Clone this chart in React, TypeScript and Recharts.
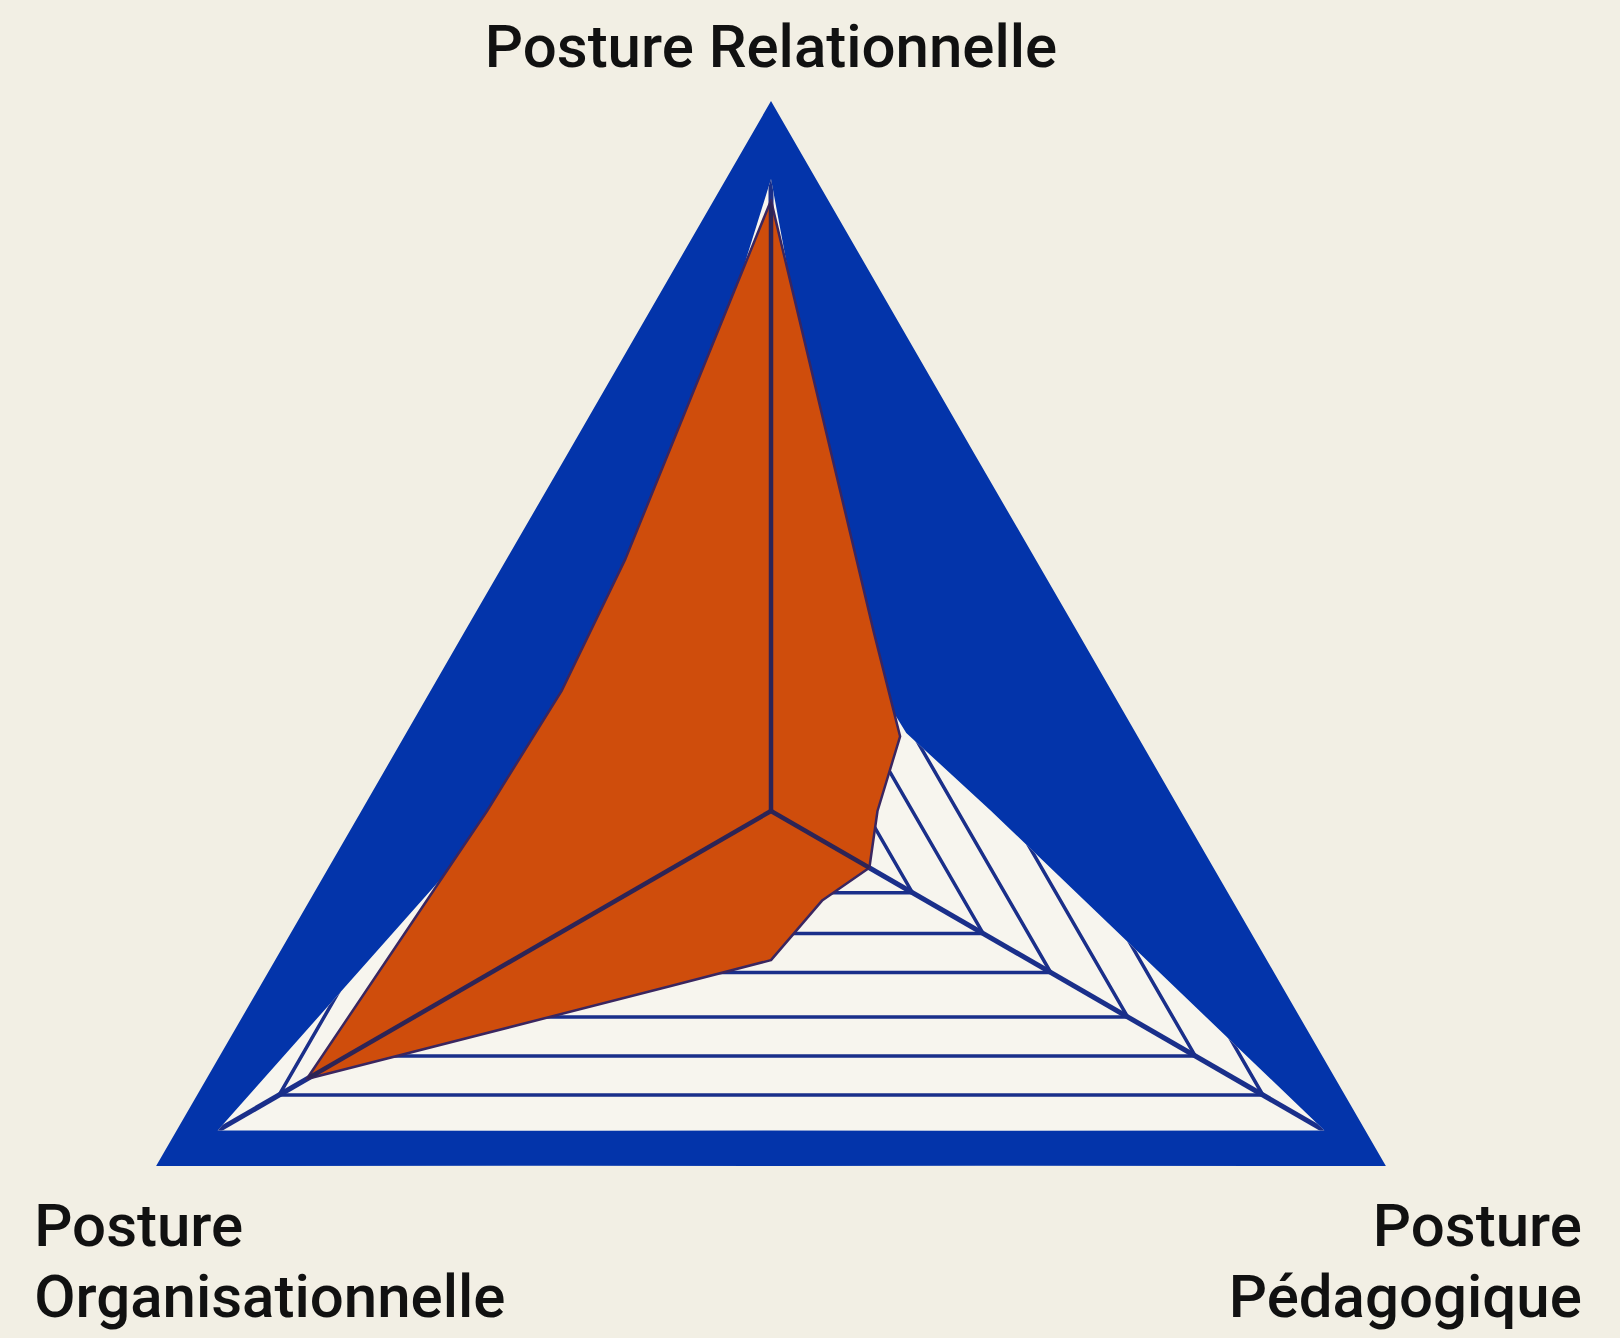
import React from 'react';
import { RadarChart, Radar, PolarGrid, PolarAngleAxis, PolarRadiusAxis } from 'recharts';

// 12 directions, every 30° clockwise from the top; three of them carry a posture
const directions = [0, 30, 60, 90, 120, 150, 180, 210, 240, 270, 300, 330];
const postures: Record<number, string[]> = {
  0: ['Posture Relationnelle'],
  120: ['Posture', 'Pédagogique'],
  240: ['Posture', 'Organisationnelle'],
};

// outer blue triangle, pale inner zone, orange profile (0-100 on every direction)
const cadre = [100, 57.7, 50, 57.7, 100, 57.7, 50, 57.7, 100, 57.7, 50, 57.7];
const fond = [89, 25, 22, 31, 90, 52, 45, 52, 90, 38, 29, 36];
const profil = [86, 29, 21, 15, 16, 14.5, 21, 28.5, 75.5, 40, 34, 41];

// concentric triangles of the grid (% of the radius) and the three posture axes (degrees)
const niveaux = [23, 34.5, 45.5, 58, 69, 80];
const axesPostures = [90, -30, -150];

const data = directions.map((direction, i) => ({
  direction,
  cadre: cadre[i],
  fond: fond[i],
  profil: profil[i],
}));

const W = 1620;
const H = 1338;
const CX = 771;
const CY = 811;
const R = 710;

const PAGE = '#f2efe4';
const BLEU = '#0334aa';
const FOND = '#f7f5ee';
const ORANGE = '#cf4d0c';
const TRAIT = '#1a2f8a';

function FormeDecoupe(props: any) {
  const { points, fill, stroke, strokeWidth, clipId } = props;
  const pts = (points || []).map((p: any) => `${p.x},${p.y}`).join(' ');
  return (
    <g>
      <clipPath id={clipId}>
        <polygon points={pts} />
      </clipPath>
      <polygon points={pts} fill={fill} stroke={stroke} strokeWidth={strokeWidth} strokeLinejoin="round" />
    </g>
  );
}

function Etiquette(props: any) {
  const { x, y, payload } = props;
  const lignes = postures[payload.value];
  if (!lignes) return null;
  const ancre = x > CX + 1 ? 'end' : x < CX - 1 ? 'start' : 'middle';
  const dx = ancre === 'end' ? 189 : ancre === 'start' ? -115 : 0;
  const dy = ancre === 'middle' ? -26 : 76;
  return (
    <text
      x={x + dx}
      y={y + dy}
      textAnchor={ancre}
      fontFamily="Roboto, sans-serif"
      fontWeight={500}
      fontSize={60}
      fill="#111"
    >
      {lignes.map((l, i) => (
        <tspan key={i} x={x + dx} dy={i === 0 ? 0 : 71}>
          {l}
        </tspan>
      ))}
    </text>
  );
}

function Calque({ clip, tick, children }: { clip?: string; tick?: any; children?: React.ReactNode }) {
  return (
    <div style={{ position: 'absolute', left: 0, top: 0, clipPath: clip ? `url(#${clip})` : undefined }}>
      <RadarChart
        width={W}
        height={H}
        data={data}
        cx={CX}
        cy={CY}
        outerRadius={R}
        margin={{ top: 0, right: 0, bottom: 0, left: 0 }}
      >
        <PolarAngleAxis dataKey="direction" tick={tick || false} axisLine={false} tickLine={false} />
        <PolarRadiusAxis domain={[0, 100]} tick={false} axisLine={false} />
        {children}
      </RadarChart>
    </div>
  );
}

export default function App() {
  const rayons = niveaux.map((n) => (n / 100) * R);
  return (
    <div style={{ position: 'relative', width: W, height: H, background: PAGE, overflow: 'hidden' }}>
      <style>{`body{margin:0;background:${PAGE}}`}</style>

      <Calque tick={<Etiquette />}>
        <Radar dataKey="cadre" fill={BLEU} fillOpacity={1} stroke="none" isAnimationActive={false} />
        <Radar
          dataKey="fond"
          fill={FOND}
          fillOpacity={1}
          stroke="none"
          isAnimationActive={false}
          shape={(p: any) => <FormeDecoupe {...p} clipId="zone-fond" />}
        />
      </Calque>

      <Calque clip="zone-fond">
        <PolarGrid
          gridType="polygon"
          polarAngles={axesPostures}
          polarRadius={rayons}
          radialLines={false}
          stroke={TRAIT}
          strokeWidth={3.5}
        />
        <PolarGrid gridType="polygon" polarAngles={axesPostures} polarRadius={[]} radialLines stroke={TRAIT} strokeWidth={5} />
      </Calque>

      <Calque>
        <Radar
          dataKey="profil"
          fill={ORANGE}
          fillOpacity={1}
          stroke="#3a2660"
          strokeWidth={2.5}
          isAnimationActive={false}
          shape={(p: any) => <FormeDecoupe {...p} clipId="zone-profil" />}
        />
      </Calque>

      <Calque clip="zone-profil">
        <PolarGrid gridType="polygon" polarAngles={axesPostures} polarRadius={[]} radialLines stroke="#2d2456" strokeWidth={4.5} />
      </Calque>
    </div>
  );
}
